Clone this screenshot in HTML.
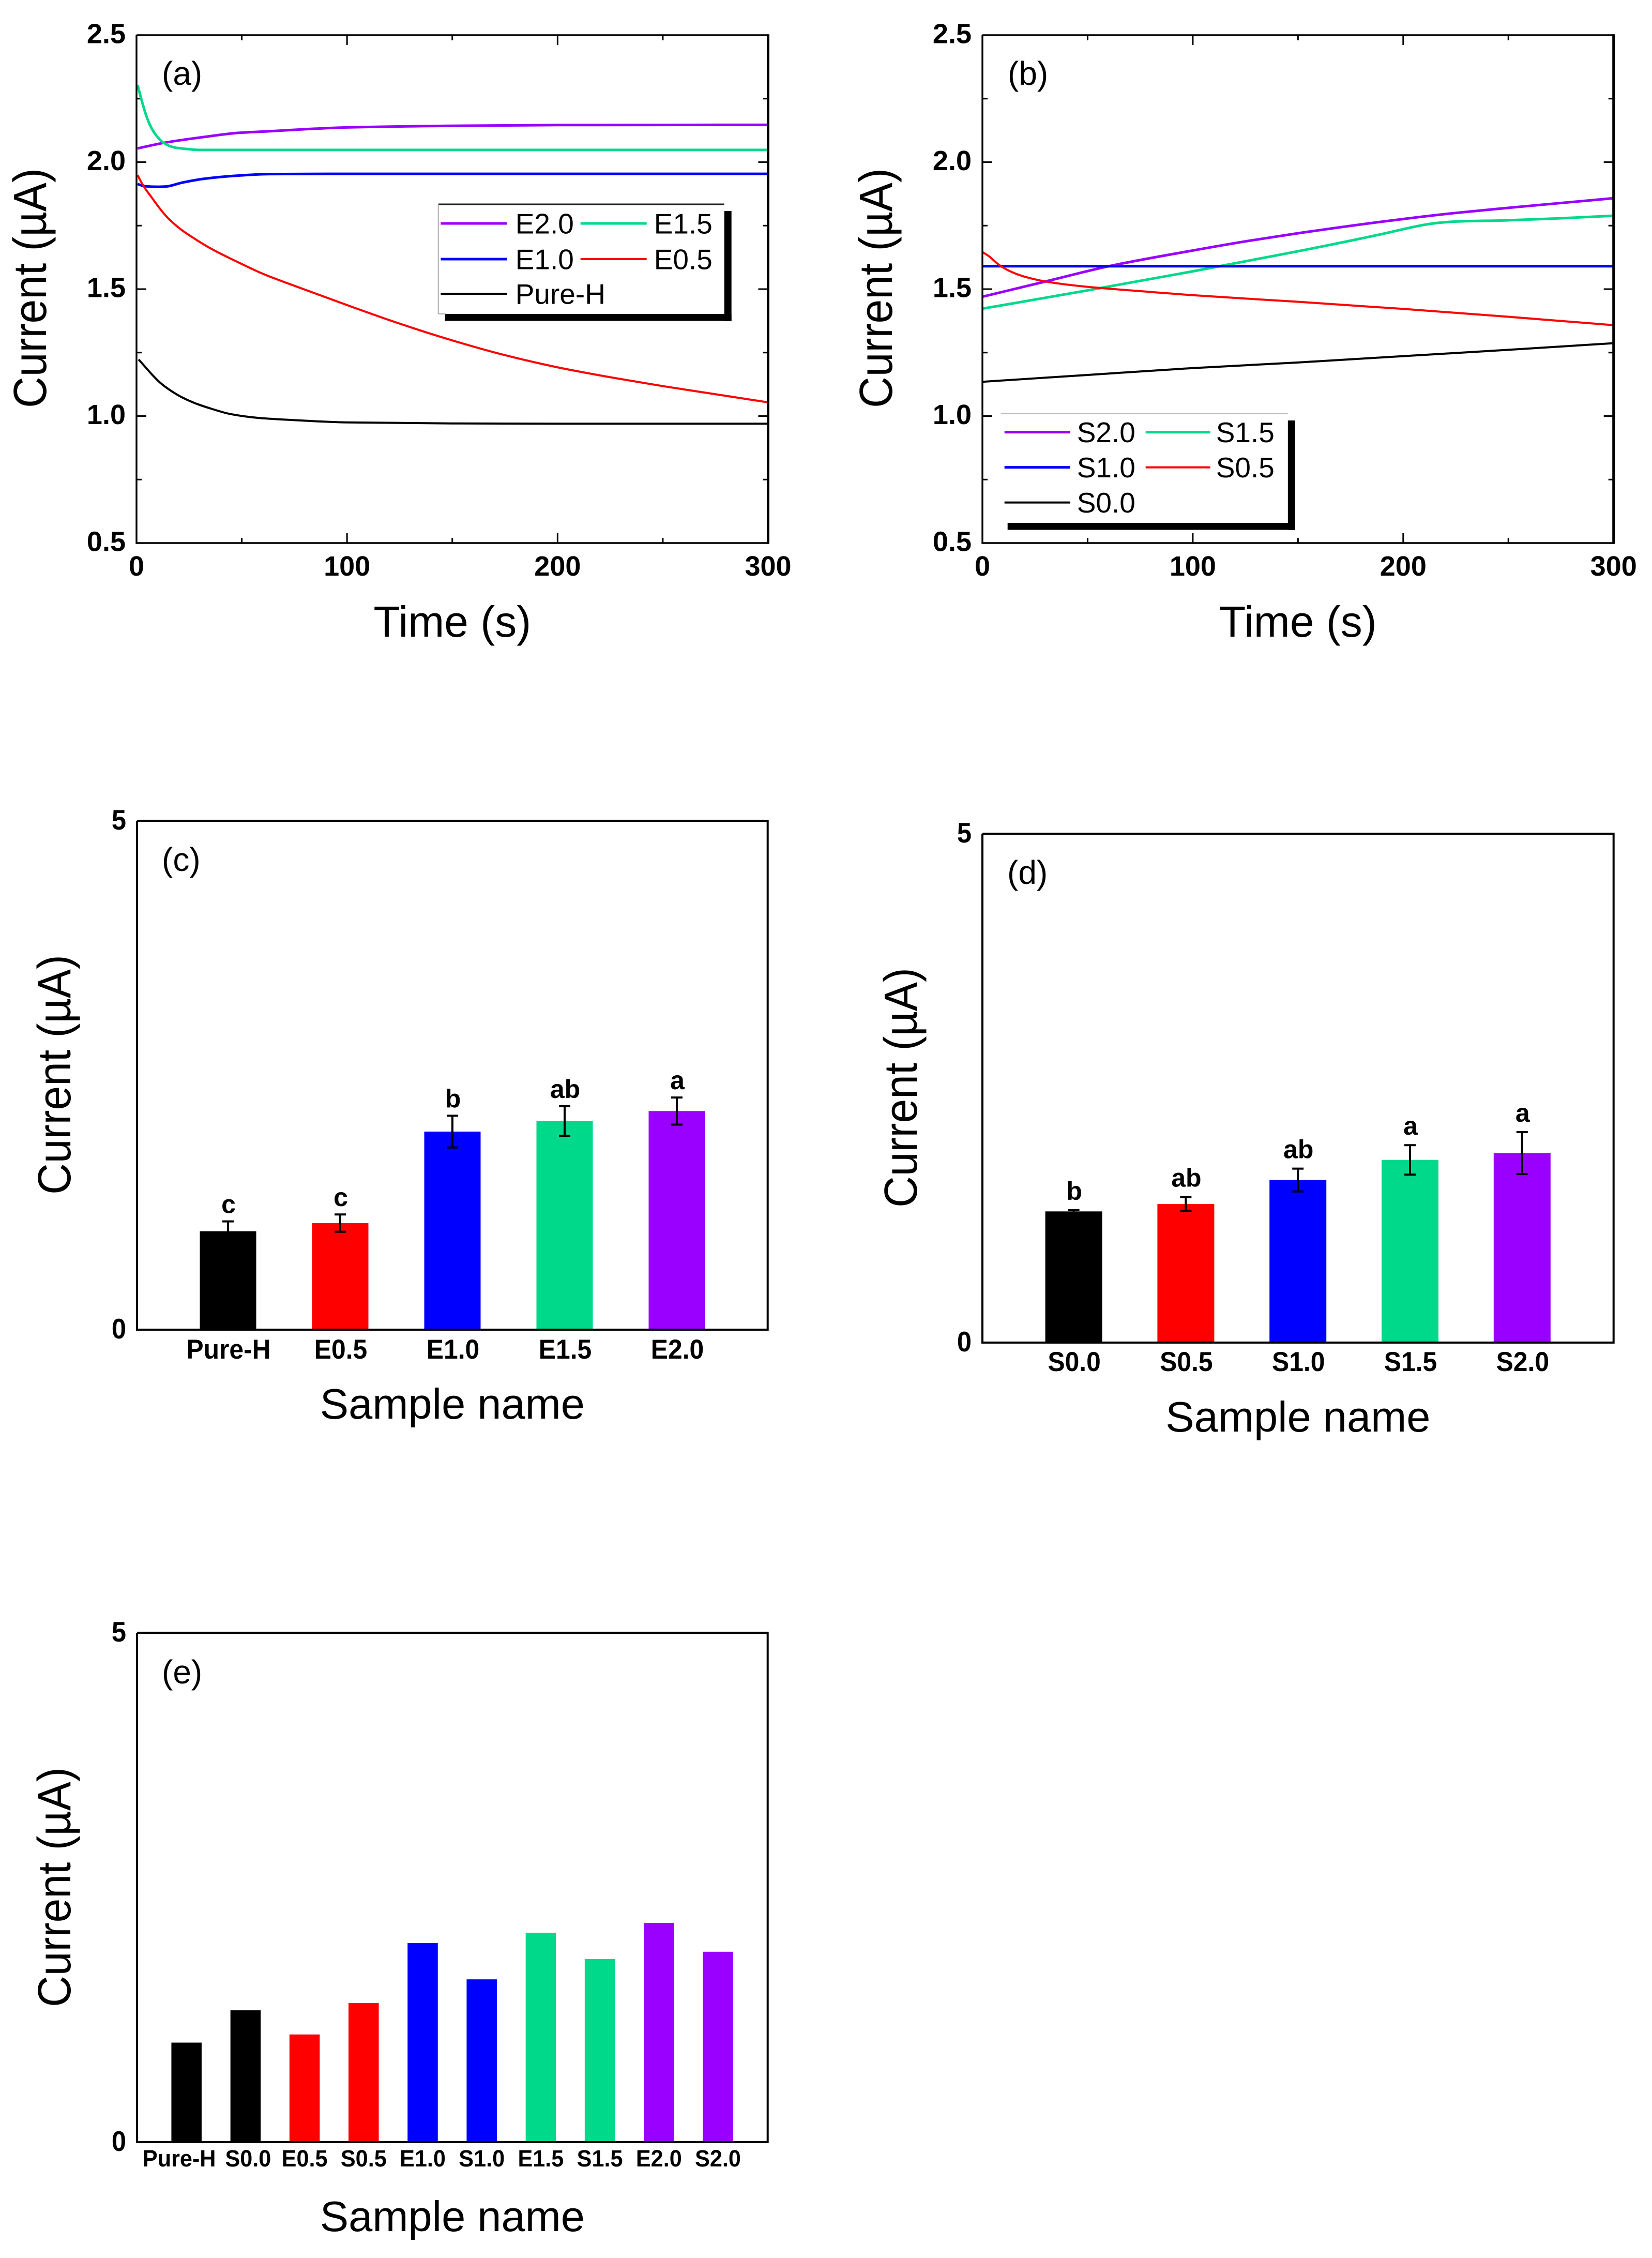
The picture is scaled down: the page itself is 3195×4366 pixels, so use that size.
<!DOCTYPE html>
<html lang="en">
<head>
<meta charset="utf-8">
<title>Current measurements of samples</title>
<style>
html,body{margin:0;padding:0;background:#fff;}
svg{display:block;}
text{font-family:"Liberation Sans",Arial,sans-serif;fill:#000;}
</style>
</head>
<body>
<svg id="figure" xmlns="http://www.w3.org/2000/svg" width="3195" height="4366" viewBox="0 0 3195 4366">
<rect x="0" y="0" width="3195" height="4366" fill="#ffffff"/>
</svg>
<script>
// ---------- Axis tick data ----------
const timeMajorTicks = [0, 100, 200, 300];
const timeTickLabels = ["0", "100", "200", "300"];
const timeMinorTicks = [50, 150, 250];
const currentMajorTicks = [0.5, 1.0, 1.5, 2.0, 2.5];
const currentTickLabels = ["0.5", "1.0", "1.5", "2.0", "2.5"];
const currentMinorTicks = [0.75, 1.25, 1.75, 2.25];
const barValueTicks = [0, 5];
const barValueTickLabels = ["0", "5"];

// ---------- Panel (a) series ----------
const e20Time = [0.5, 13, 32, 48, 64, 81, 97, 150, 200, 300];
const e20Current = [2.054, 2.076, 2.099, 2.115, 2.122, 2.13, 2.136, 2.143, 2.146, 2.147];
const e15Time = [0.5, 3.1, 5.2, 7.2, 9.6, 13, 17.9, 23.6, 30, 60, 300];
const e15Current = [2.304, 2.224, 2.17, 2.133, 2.103, 2.075, 2.058, 2.052, 2.048, 2.048, 2.048];
const e10Time = [0.5, 4, 9.7, 13.8, 22, 31.7, 46.5, 63, 97, 300];
const e10Current = [1.914, 1.905, 1.903, 1.904, 1.92, 1.934, 1.946, 1.953, 1.954, 1.954];
const e05Time = [0.5, 3.1, 7.2, 11.4, 15.4, 21.1, 27.7, 35.9, 48.2, 60.4, 72.7, 100, 125, 150, 175, 200, 225, 250, 275, 300];
const e05Current = [1.949, 1.909, 1.861, 1.814, 1.776, 1.735, 1.698, 1.657, 1.606, 1.559, 1.52, 1.437, 1.364, 1.298, 1.24, 1.192, 1.153, 1.118, 1.086, 1.054];
const pureHTime = [1, 4.3, 7.2, 11.3, 15.4, 21.1, 27.7, 35.9, 44, 52.2, 60.4, 72.7, 100, 150, 200, 300];
const pureHCurrent = [1.223, 1.192, 1.165, 1.131, 1.105, 1.076, 1.051, 1.028, 1.009, 0.998, 0.991, 0.985, 0.975, 0.971, 0.97, 0.97];

// ---------- Panel (b) series ----------
const s20Time = [0, 30, 60, 100, 125, 150, 200, 225, 250, 300];
const s20Current = [1.47, 1.53, 1.59, 1.652, 1.688, 1.72, 1.776, 1.8, 1.82, 1.858];
const s15Time = [0, 50, 100, 150, 190, 205, 212, 218, 225, 250, 275, 300];
const s15Current = [1.423, 1.495, 1.57, 1.649, 1.717, 1.745, 1.756, 1.762, 1.766, 1.771, 1.779, 1.789];
const s10Time = [0, 300];
const s10Current = [1.59, 1.59];
const s05Time = [0, 3, 8, 14, 20, 28, 38, 50, 75, 100, 150, 200, 250, 300];
const s05Current = [1.646, 1.63, 1.595, 1.567, 1.549, 1.533, 1.52, 1.509, 1.492, 1.476, 1.45, 1.422, 1.391, 1.358];
const s00Time = [0, 50, 100, 150, 200, 250, 300];
const s00Current = [1.135, 1.162, 1.189, 1.211, 1.236, 1.261, 1.287];

// ---------- Panel (c) bars ----------
const panelCCategories = ["Pure-H", "E0.5", "E1.0", "E1.5", "E2.0"];
const panelCValues = [0.967, 1.047, 1.946, 2.05, 2.148];
const panelCErrors = [0.097, 0.085, 0.156, 0.145, 0.133];
const panelCLetters = ["c", "c", "b", "ab", "a"];

// ---------- Panel (d) bars ----------
const panelDCategories = ["S0.0", "S0.5", "S1.0", "S1.5", "S2.0"];
const panelDValues = [1.289, 1.362, 1.597, 1.795, 1.862];
const panelDErrors = [0.012, 0.068, 0.112, 0.145, 0.206];
const panelDLetters = ["b", "ab", "ab", "a", "a"];

// ---------- Panel (e) bars ----------
const panelECategories = ["Pure-H", "S0.0", "E0.5", "S0.5", "E1.0", "S1.0", "E1.5", "S1.5", "E2.0", "S2.0"];
const panelEValues = [0.977, 1.294, 1.057, 1.366, 1.954, 1.598, 2.055, 1.797, 2.152, 1.869];

// ---------- Colours ----------
const BLACK = "#000000", RED = "#ff0000", BLUE = "#0000ff", GREEN = "#00d98a", PURPLE = "#9900ff";
const fiveBarColors = [BLACK, RED, BLUE, GREEN, PURPLE];
const tenBarColors = [BLACK, BLACK, RED, RED, BLUE, BLUE, GREEN, GREEN, PURPLE, PURPLE];

const SVGNS = "http://www.w3.org/2000/svg";
const root = document.getElementById("figure");

function linear(d0, d1, r0, r1) {
  return function (v) { return r0 + (v - d0) * (r1 - r0) / (d1 - d0); };
}

function makeGroup(parent, name) {
  const el = document.createElementNS(SVGNS, "g");
  
  
  parent.appendChild(el);
  return el;
}

function makeLine(parent, name, x1, y1, x2, y2, color, width) {
  const el = document.createElementNS(SVGNS, "line");
  
  
  el.setAttribute("x1", x1);
  el.setAttribute("y1", y1);
  el.setAttribute("x2", x2);
  el.setAttribute("y2", y2);
  el.setAttribute("stroke", color);
  el.setAttribute("stroke-width", width);
  parent.appendChild(el);
  return el;
}

function makeRect(parent, name, x, y, w, h, fill) {
  const el = document.createElementNS(SVGNS, "rect");
  
  
  el.setAttribute("x", x);
  el.setAttribute("y", y);
  el.setAttribute("width", w);
  el.setAttribute("height", h);
  el.setAttribute("fill", fill);
  parent.appendChild(el);
  return el;
}

function makeText(parent, name, str, x, y, size, weight, anchor, transformTail) {
  const el = document.createElementNS(SVGNS, "text");
  
  
  el.setAttribute("transform", "translate(" + x + " " + y + ")" + (transformTail || ""));
  el.setAttribute("font-size", size);
  el.setAttribute("font-weight", weight);
  el.setAttribute("text-anchor", anchor);
  el.textContent = str;
  parent.appendChild(el);
  return el;
}

function makeFrame(parent, box, widths) {
  const g = makeGroup(parent, "plot-frame");
  makeLine(g, "frame-left", box.left, box.top, box.left, box.bottom, "#000", widths.side);
  makeLine(g, "frame-top", box.left, box.top, box.right, box.top, "#000", widths.side);
  makeLine(g, "frame-right", box.right, box.top - widths.side / 2, box.right, box.bottom + widths.bottom / 2, "#000", widths.right);
  makeLine(g, "frame-bottom", box.left - widths.side / 2, box.bottom, box.right, box.bottom, "#000", widths.bottom);
}

function smoothPath(xs, ys) {
  const n = xs.length;
  if (n < 3) return "M" + xs[0] + " " + ys[0] + "L" + xs[n - 1] + " " + ys[n - 1];
  const d = [], m = [];
  for (let i = 0; i < n - 1; i++) d.push((ys[i + 1] - ys[i]) / (xs[i + 1] - xs[i]));
  m[0] = d[0];
  m[n - 1] = d[n - 2];
  for (let i = 1; i < n - 1; i++) {
    if (d[i - 1] * d[i] <= 0) { m[i] = 0; continue; }
    const h0 = xs[i] - xs[i - 1], h1 = xs[i + 1] - xs[i];
    m[i] = (h0 + h1) * 3 / ((2 * h1 + h0) / d[i - 1] + (h1 + 2 * h0) / d[i]);
  }
  let p = "M" + xs[0].toFixed(2) + " " + ys[0].toFixed(2);
  for (let i = 0; i < n - 1; i++) {
    const h = (xs[i + 1] - xs[i]) / 3;
    p += "C" + (xs[i] + h).toFixed(2) + " " + (ys[i] + m[i] * h).toFixed(2) + " " +
      (xs[i + 1] - h).toFixed(2) + " " + (ys[i + 1] - m[i + 1] * h).toFixed(2) + " " +
      xs[i + 1].toFixed(2) + " " + ys[i + 1].toFixed(2);
  }
  return p;
}

function makeCurve(parent, name, times, values, xScale, yScale, color, width) {
  const el = document.createElementNS(SVGNS, "path");
  
  
  el.setAttribute("d", smoothPath(times.map(xScale), values.map(yScale)));
  el.setAttribute("fill", "none");
  el.setAttribute("stroke", color);
  el.setAttribute("stroke-width", width);
  el.setAttribute("stroke-linejoin", "round");
  parent.appendChild(el);
}

function drawYTitle(parent, x, y) {
  makeText(parent, "y-axis-title", "Current (\u00B5A)", x, y, 84, "normal", "middle", " rotate(-90) scale(1 1.07)");
}

function drawLegend(parent, name, cfg, entries) {
  const g = makeGroup(parent, name);
  const b = cfg.box;
  makeRect(g, "legend-shadow-right", b.x + b.w, b.y + 13, 14, b.h + 1, "#000");
  makeRect(g, "legend-shadow-bottom", b.x + 13, b.y + b.h, b.w + 1, 13.5, "#000");
  makeRect(g, "legend-background", b.x, b.y, b.w, b.h, "#fff");
  makeLine(g, "legend-border-top", b.x, b.y, b.x + b.w, b.y, cfg.topColor, cfg.topWidth);
  if (cfg.sideBorder) {
    makeLine(g, "legend-border-left", b.x, b.y, b.x, b.y + b.h, "#aaaaaa", 2);
    makeLine(g, "legend-border-bottom", b.x, b.y + b.h, b.x + 14, b.y + b.h, "#aaaaaa", 2);
  }
  entries.forEach(function (entry, i) {
    const col = i % 2, row = Math.floor(i / 2);
    const e = makeGroup(g, "legend-entry-" + entry.label.toLowerCase().replace(".", ""));
    const y = b.y + cfg.rowOffsets[row];
    const c = cfg.columns[col];
    makeLine(e, "legend-line", b.x + c.lineStart, y, b.x + c.lineEnd, y, entry.color, entry.width);
    makeText(e, "legend-label", entry.label, b.x + c.text, y + 19.5, 55, "normal", "start");
  });
}

function drawTimePanel(cfg) {
  const panel = makeGroup(root, cfg.name);
  const box = cfg.box;
  const xScale = linear(0, 300, box.left, box.right);
  const yScale = linear(0.5, 2.5, box.bottom, box.top);

  const ticks = makeGroup(panel, "axis-ticks");
  timeMajorTicks.forEach(function (t) {
    makeLine(ticks, "x-major-tick-bottom", xScale(t), box.bottom, xScale(t), box.bottom - 19, "#000", 3);
    makeLine(ticks, "x-major-tick-top", xScale(t), box.top, xScale(t), box.top + 19, "#000", 3);
  });
  timeMinorTicks.forEach(function (t) {
    makeLine(ticks, "x-minor-tick-bottom", xScale(t), box.bottom, xScale(t), box.bottom - 10, "#000", 3);
    makeLine(ticks, "x-minor-tick-top", xScale(t), box.top, xScale(t), box.top + 10, "#000", 3);
  });
  currentMajorTicks.forEach(function (v) {
    makeLine(ticks, "y-major-tick-left", box.left, yScale(v), box.left + 19, yScale(v), "#000", 3);
    makeLine(ticks, "y-major-tick-right", box.right, yScale(v), box.right - 19, yScale(v), "#000", 3);
  });
  currentMinorTicks.forEach(function (v) {
    makeLine(ticks, "y-minor-tick-left", box.left, yScale(v), box.left + 10, yScale(v), "#000", 3);
    makeLine(ticks, "y-minor-tick-right", box.right, yScale(v), box.right - 10, yScale(v), "#000", 3);
  });

  const series = makeGroup(panel, "series");
  cfg.series.forEach(function (s) {
    makeCurve(series, "curve-" + s.label.toLowerCase().replace(".", ""), s.t, s.v, xScale, yScale, s.color, s.width);
  });

  makeFrame(panel, box, { side: 3.4, right: 5, bottom: 3.6 });

  const tl = makeGroup(panel, "tick-labels");
  timeMajorTicks.forEach(function (t, i) {
    makeText(tl, "x-tick-label", timeTickLabels[i], xScale(t), box.bottom + 63, 54, "bold", "middle");
  });
  currentMajorTicks.forEach(function (v, i) {
    makeText(tl, "y-tick-label", currentTickLabels[i], box.left - 21, yScale(v) + 15.5, 54, "bold", "end");
  });

  makeText(panel, "x-axis-title", "Time (s)", (box.left + box.right) / 2, box.bottom + 181, 84, "normal", "middle");
  drawYTitle(panel, box.left - 175, 557);
  makeText(panel, "panel-label", cfg.tag, box.left + 49, 164, 64, "normal", "start");
  drawLegend(panel, "legend", cfg.legend, cfg.series);
}

function drawBarPanel(cfg) {
  const panel = makeGroup(root, cfg.name);
  const box = cfg.box;
  const yScale = linear(0, 5, box.bottom, box.top);
  const xScale = linear(0, cfg.categories.length, box.left + cfg.firstOffset, box.left + cfg.firstOffset + cfg.spacing * cfg.categories.length);

  const bars = makeGroup(panel, "bars");
  cfg.categories.forEach(function (cat, i) {
    const top = yScale(cfg.values[i]);
    makeRect(bars, "bar-" + cat.toLowerCase().replace(".", ""), xScale(i) - cfg.barWidth / 2, top, cfg.barWidth, box.bottom - top, cfg.colors[i]);
  });

  if (cfg.errors) {
    const errs = makeGroup(panel, "error-bars");
    cfg.categories.forEach(function (cat, i) {
      const g = makeGroup(errs, "error-bar-" + cat.toLowerCase().replace(".", ""));
      const hi = yScale(cfg.values[i] + cfg.errors[i]);
      const lo = yScale(cfg.values[i] - cfg.errors[i]);
      makeLine(g, "error-stem", xScale(i), hi, xScale(i), lo, "#000", 4);
      makeLine(g, "error-cap-top", xScale(i) - 11, hi, xScale(i) + 11, hi, "#000", 4);
      makeLine(g, "error-cap-bottom", xScale(i) - 11, lo, xScale(i) + 11, lo, "#000", 4);
    });
    const letters = makeGroup(panel, "significance-letters");
    cfg.categories.forEach(function (cat, i) {
      const hi = yScale(cfg.values[i] + cfg.errors[i]);
      makeText(letters, "significance-letter", cfg.letters[i], xScale(i) + 1, hi - cfg.letterGap, 50, "bold", "middle");
    });
  }

  makeFrame(panel, box, { side: 4, right: 4, bottom: 4 });

  const tl = makeGroup(panel, "tick-labels");
  cfg.categories.forEach(function (cat, i) {
    let nudge = 1;
    if (cfg.crowded) nudge = i === 0 ? -14 : (i === 1 ? 5 : 0);
    makeText(tl, "x-tick-label", cat, xScale(i) + nudge, box.bottom + cfg.labelDrop, cfg.labelSize, "bold", "middle", " scale(" + cfg.labelStretch + " 1)");
  });
  barValueTicks.forEach(function (v, i) {
    makeText(tl, "y-tick-label", barValueTickLabels[i], box.left - 21, yScale(v) + 17, 55, "bold", "end", " scale(0.92 1)");
  });

  makeText(panel, "x-axis-title", "Sample name", (box.left + box.right) / 2, box.bottom + 172, 83, "normal", "middle");
  drawYTitle(panel, cfg.titleX, cfg.titleY);
  makeText(panel, "panel-label", cfg.tag, box.left + 48, cfg.tagY, 64, "normal", "start");
}

const legendAColumns = [{ lineStart: 4.7, lineEnd: 133, text: 149 }, { lineStart: 275, lineEnd: 403, text: 417 }];
const legendBColumns = [{ lineStart: 7, lineEnd: 134, text: 147 }, { lineStart: 280, lineEnd: 405, text: 416 }];

drawTimePanel({
  name: "panel-a", tag: "(a)",
  box: { left: 264, right: 1485.5, top: 68, bottom: 1050 },
  series: [
    { label: "E2.0", t: e20Time, v: e20Current, color: PURPLE, width: 5 },
    { label: "E1.5", t: e15Time, v: e15Current, color: GREEN, width: 5 },
    { label: "E1.0", t: e10Time, v: e10Current, color: BLUE, width: 5 },
    { label: "E0.5", t: e05Time, v: e05Current, color: RED, width: 4 },
    { label: "Pure-H", t: pureHTime, v: pureHCurrent, color: BLACK, width: 4 }
  ],
  legend: {
    box: { x: 847.7, y: 395, w: 553, h: 212 },
    topColor: "#222222", topWidth: 3, sideBorder: true,
    rowOffsets: [37, 106, 173], columns: legendAColumns
  }
});

drawTimePanel({
  name: "panel-b", tag: "(b)",
  box: { left: 1900, right: 3120.7, top: 68, bottom: 1050 },
  series: [
    { label: "S2.0", t: s20Time, v: s20Current, color: PURPLE, width: 5 },
    { label: "S1.5", t: s15Time, v: s15Current, color: GREEN, width: 5 },
    { label: "S1.0", t: s10Time, v: s10Current, color: BLUE, width: 5 },
    { label: "S0.5", t: s05Time, v: s05Current, color: RED, width: 4 },
    { label: "S0.0", t: s00Time, v: s00Current, color: BLACK, width: 4 }
  ],
  legend: {
    box: { x: 1935.7, y: 800, w: 555, h: 211 },
    topColor: "#bbbbbb", topWidth: 2, sideBorder: false,
    rowOffsets: [35.6, 103.6, 171.6], columns: legendBColumns
  }
});

drawBarPanel({
  name: "panel-c", tag: "(c)", tagY: 1684,
  box: { left: 265, right: 1484.7, top: 1587, bottom: 2571 },
  categories: panelCCategories, values: panelCValues, errors: panelCErrors, letters: panelCLetters,
  colors: fiveBarColors, firstOffset: 176, spacing: 217, barWidth: 109, letterGap: 16,
  labelDrop: 56, labelSize: 53, labelStretch: 0.94, titleX: 136, titleY: 2078
});

drawBarPanel({
  name: "panel-d", tag: "(d)", tagY: 1709,
  box: { left: 1900, right: 3120.7, top: 1612, bottom: 2596 },
  categories: panelDCategories, values: panelDValues, errors: panelDErrors, letters: panelDLetters,
  colors: fiveBarColors, firstOffset: 176.6, spacing: 216.8, barWidth: 110, letterGap: 20,
  labelDrop: 55, labelSize: 53, labelStretch: 0.94, titleX: 1773, titleY: 2103
});

drawBarPanel({
  name: "panel-e", tag: "(e)", tagY: 3255,
  box: { left: 265, right: 1484.7, top: 3157, bottom: 4142 },
  categories: panelECategories, values: panelEValues, colors: tenBarColors,
  firstOffset: 95.7, spacing: 114.2, barWidth: 58.5,
  labelDrop: 47, labelSize: 45, labelStretch: 0.96, crowded: true, titleX: 136, titleY: 3649
});
</script>
</body>
</html>
